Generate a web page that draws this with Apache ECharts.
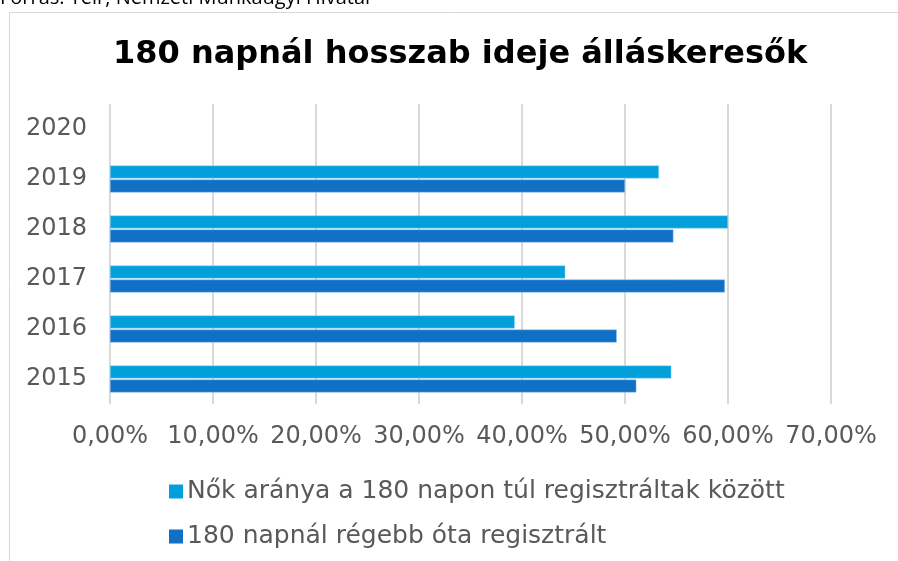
<!DOCTYPE html>
<html>
<head>
<meta charset="utf-8">
<script src="https://cdn.jsdelivr.net/npm/echarts@6/dist/echarts.min.js"></script>
<style>
html, body { margin: 0; padding: 0; background: #fff; }
#chart { width: 898px; height: 561px; }
</style>
</head>
<body>
<div id="chart"></div>
<script>
var years = ['2015', '2016', '2017', '2018', '2019', '2020'];
var nokAranya = [54.5, 39.3, 44.2, 60.0, 53.3, null];
var regebbOta = [51.1, 49.2, 59.7, 54.7, 50.0, null];
var xTicks = [0, 10, 20, 30, 40, 50, 60, 70];

var chartDom = document.getElementById('chart');
var myChart = echarts.init(chartDom);
var option;

option = {
    animation: false,
    textStyle: { fontFamily: 'DejaVu Sans' },
    title: {
        left: 108,
        top: 34,
        text: '180 napnál hosszab ideje álláskeresők',
        textStyle: { fontSize: 32, fontWeight: 'bold', color: '#000', fontFamily: 'DejaVu Sans' }
    },
    graphic: [
        {
            type: 'rect',
            shape: { x: 9.5, y: 12.5, width: 900, height: 560 },
            style: { fill: 'none', stroke: '#d9d9d9', lineWidth: 1 }
        },
        {
            type: 'text',
            left: 0,
            top: -12,
            style: { text: 'Forrás: Teir, Nemzeti Munkaügyi Hivatal', font: '20px "Open Sans"', fill: '#000' }
        }
    ],
    legend: {
        orient: 'vertical',
        left: 169,
        top: 479,
        padding: 0,
        itemWidth: 14,
        itemHeight: 14,
        itemGap: 20,
        icon: 'rect',
        itemStyle: { borderWidth: 0 },
        data: ['Nők aránya a 180 napon túl regisztráltak között', '180 napnál régebb óta regisztrált'],
        textStyle: { fontSize: 25, color: '#595959', padding: [0, 0, 0, -1] }
    },
    grid: { left: 110, right: 67, top: 104, bottom: 157 },
    xAxis: {
        type: 'value',
        min: 0,
        max: 70,
        interval: 10,
        axisLine: { show: false },
        axisTick: { show: false },
        splitLine: { lineStyle: { color: '#d9d9d9', width: 2 } },
        axisLabel: {
            fontSize: 24,
            color: '#595959',
            margin: 21,
            formatter: function (v) {
                return xTicks.indexOf(v) >= 0 ? v.toFixed(2).replace('.', ',') + '%' : '';
            }
        }
    },
    yAxis: {
        type: 'category',
        data: years,
        axisLine: { show: false },
        axisTick: { show: false },
        axisLabel: { fontSize: 24, color: '#595959', margin: 23 }
    },
    series: [
        {
            name: 'Nők aránya a 180 napon túl regisztráltak között',
            type: 'bar',
            data: nokAranya,
            barWidth: 13,
            barGap: '8%',
            itemStyle: { color: '#02A0DB', borderColor: '#9fd8f0', borderWidth: 0.5 }
        },
        {
            name: '180 napnál régebb óta regisztrált',
            type: 'bar',
            data: regebbOta,
            barWidth: 13,
            barGap: '8%',
            itemStyle: { color: '#0F70C6', borderColor: '#9fc5ea', borderWidth: 0.5 }
        }
    ]
};

option && myChart.setOption(option);
</script>
</body>
</html>
